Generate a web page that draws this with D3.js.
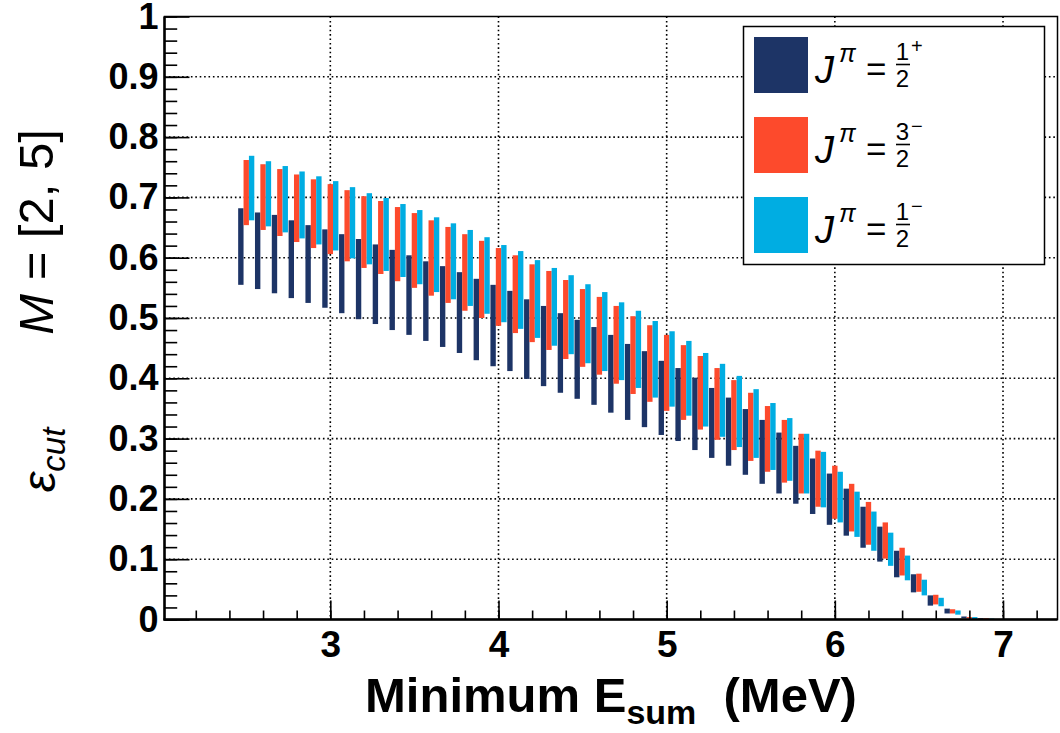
<!DOCTYPE html>
<html>
<head>
<meta charset="utf-8">
<script src="https://cdn.jsdelivr.net/npm/d3@7"></script>
<style>
  html, body { margin: 0; padding: 0; background: #fff; }
  svg { display: block; }
  text { font-family: "Liberation Sans", Arial, Helvetica, sans-serif; }
</style>
</head>
<body>
<svg id="chart" width="1060" height="733"></svg>
<script>
// ---------------- data ----------------
const energies = [2.5,2.6,2.7,2.8,2.9,3.0,3.1,3.2,3.3,3.4,3.5,3.6,3.7,3.8,3.9,4.0,4.1,4.2,4.3,4.4,4.5,4.6,4.7,4.8,4.9,5.0,5.1,5.2,5.3,5.4,5.5,5.6,5.7,5.8,5.9,6.0,6.1,6.2,6.3,6.4,6.5,6.6,6.7,6.8,6.9];

// J^pi = 1/2+  (dark)
const lowHalfPlus  = [0.555,0.548,0.541,0.533,0.525,0.517,0.508,0.498,0.490,0.480,0.472,0.462,0.452,0.442,0.430,0.420,0.412,0.399,0.387,0.376,0.366,0.356,0.343,0.331,0.319,0.306,0.296,0.281,0.268,0.255,0.240,0.225,0.209,0.192,0.175,0.157,0.139,0.119,0.096,0.070,0.045,0.023,0.010,0.002,0.000];
const highHalfPlus = [0.682,0.675,0.671,0.662,0.654,0.647,0.639,0.631,0.622,0.613,0.604,0.594,0.586,0.576,0.565,0.555,0.545,0.531,0.520,0.508,0.497,0.485,0.472,0.457,0.445,0.429,0.417,0.401,0.384,0.368,0.349,0.331,0.310,0.288,0.267,0.242,0.217,0.187,0.154,0.114,0.075,0.040,0.018,0.005,0.002];

// J^pi = 3/2-  (orange)
const lowThreeHalfMinus  = [0.654,0.646,0.636,0.626,0.616,0.606,0.594,0.583,0.573,0.561,0.550,0.537,0.525,0.512,0.500,0.487,0.475,0.460,0.447,0.432,0.419,0.406,0.391,0.374,0.361,0.346,0.331,0.315,0.298,0.281,0.263,0.245,0.227,0.209,0.187,0.167,0.146,0.124,0.101,0.073,0.046,0.025,0.010,0.002,0.000];
const highThreeHalfMinus = [0.762,0.755,0.747,0.738,0.730,0.722,0.712,0.702,0.694,0.684,0.674,0.662,0.651,0.639,0.628,0.616,0.604,0.589,0.578,0.563,0.548,0.535,0.520,0.503,0.488,0.472,0.455,0.437,0.417,0.397,0.376,0.354,0.331,0.308,0.280,0.255,0.225,0.195,0.161,0.119,0.076,0.041,0.017,0.004,0.002];

// J^pi = 1/2-  (cyan)
const lowHalfMinus  = [0.662,0.652,0.642,0.632,0.622,0.612,0.599,0.589,0.578,0.568,0.556,0.543,0.531,0.520,0.507,0.493,0.482,0.467,0.454,0.440,0.425,0.412,0.397,0.384,0.368,0.353,0.338,0.320,0.303,0.286,0.268,0.248,0.230,0.209,0.186,0.161,0.137,0.114,0.089,0.065,0.040,0.022,0.008,0.001,0.000];
const highHalfMinus = [0.769,0.760,0.752,0.743,0.735,0.727,0.717,0.707,0.699,0.689,0.679,0.667,0.657,0.646,0.634,0.621,0.611,0.596,0.583,0.571,0.556,0.543,0.526,0.512,0.495,0.478,0.462,0.442,0.424,0.404,0.382,0.359,0.334,0.308,0.278,0.245,0.212,0.179,0.144,0.106,0.066,0.036,0.015,0.004,0.0015];

const seriesNames = ["1/2+", "3/2-", "1/2-"];
const seriesColors = ["#1d3466", "#fd4a2c", "#00ade2"];
const seriesOffsets = [-0.032, 0, 0.032];   // MeV offset of each bar inside a group
const barWidthMeV = 0.032;

const xTickValues = [3,4,5,6,7];
const xTickLabels = ["3","4","5","6","7"];
const yTickValues = [0,0.1,0.2,0.3,0.4,0.5,0.6,0.7,0.8,0.9,1];
const yTickLabels = ["0","0.1","0.2","0.3","0.4","0.5","0.6","0.7","0.8","0.9","1"];

// legend text pieces: numerator, sign
const legendNum = ["1","3","1"];
const legendSign = ["+","\u2212","\u2212"];

// ---------------- layout ----------------
const svg = d3.select("#chart");
const L = 164.5, R = 1057.5, T = 16.5, B = 619.5;
const x = d3.scaleLinear().domain([2.014, 7.324]).range([L, R]);
const y = d3.scaleLinear().domain([0, 1]).range([B, T]);

// grid
const grid = svg.append("g").attr("stroke", "#000").attr("stroke-width", 1.6)
  .attr("stroke-dasharray", "1.6,2.8");
grid.selectAll("line.gx").data(xTickValues).join("line")
  .attr("x1", d => x(d)).attr("x2", d => x(d)).attr("y1", T).attr("y2", B);
grid.selectAll("line.gy").data(yTickValues.filter(v => v > 0 && v < 1)).join("line")
  .attr("x1", L).attr("x2", R).attr("y1", d => y(d)).attr("y2", d => y(d));

// bars
const series = [
  {lo: lowHalfPlus, hi: highHalfPlus},
  {lo: lowThreeHalfMinus, hi: highThreeHalfMinus},
  {lo: lowHalfMinus, hi: highHalfMinus}
];
series.forEach((s, si) => {
  const data = energies.map((e, i) => ({e, lo: s.lo[i], hi: s.hi[i]}));
  svg.append("g").selectAll("rect").data(data).join("rect")
    .attr("x", d => x(d.e + seriesOffsets[si] - barWidthMeV / 2))
    .attr("width", d => x(d.e + seriesOffsets[si] + barWidthMeV / 2) - x(d.e + seriesOffsets[si] - barWidthMeV / 2))
    .attr("y", d => y(d.hi))
    .attr("height", d => Math.max(0.6, y(d.lo) - y(d.hi)))
    .attr("fill", seriesColors[si]);
});

// axes
const yMinor = d3.range(0, 1.0001, 0.02);
const xMinor = d3.range(2.2, 7.32, 0.2);
const yAxisMinor = d3.axisLeft(y).tickValues(yMinor).tickSize(-12.7).tickFormat("");
const yAxisMajor = d3.axisLeft(y).tickValues(yTickValues).tickSize(-25)
  .tickPadding(6).tickFormat((d, i) => yTickLabels[i]);
const xAxisMinor = d3.axisBottom(x).tickValues(xMinor).tickSize(-9).tickFormat("");
const xAxisMajor = d3.axisBottom(x).tickValues(xTickValues).tickSize(-19)
  .tickPadding(11).tickFormat((d, i) => xTickLabels[i]);

function styleAxis(g) {
  g.select(".domain").remove();
  g.selectAll(".tick line").attr("stroke", "#000").attr("stroke-width", 1.6);
  g.selectAll(".tick text").attr("fill", "#000").attr("font-weight", "bold")
    .attr("font-size", 36);
}
svg.append("g").attr("transform", `translate(${L},0)`).call(yAxisMinor).call(styleAxis);
svg.append("g").attr("transform", `translate(${L},0)`).call(yAxisMajor).call(styleAxis);
svg.append("g").attr("transform", `translate(0,${B})`).call(xAxisMinor).call(styleAxis);
const xg = svg.append("g").attr("transform", `translate(0,${B})`).call(xAxisMajor).call(styleAxis);
xg.selectAll(".tick text").attr("dy", "0.71em").attr("font-size", 37);

// frame
svg.append("rect").attr("x", L).attr("y", T).attr("width", R - L).attr("height", B - T)
  .attr("fill", "none").attr("stroke", "#000").attr("stroke-width", 1.5);
svg.append("line").attr("x1", L).attr("x2", L).attr("y1", T).attr("y2", B + 1)
  .attr("stroke", "#000").attr("stroke-width", 2.5);
svg.append("line").attr("x1", L - 1).attr("x2", R).attr("y1", B).attr("y2", B)
  .attr("stroke", "#000").attr("stroke-width", 2.5);

// x title
const xt = svg.append("text").attr("x", 611).attr("y", 712).attr("text-anchor", "middle")
  .attr("font-weight", "bold").attr("font-size", 49).attr("fill", "#000");
xt.append("tspan").text("Minimum E");
xt.append("tspan").attr("font-size", 34).attr("dy", 12).text("sum");
xt.append("tspan").attr("dy", -12).text("\u00a0\u00a0(MeV)");

// y title
svg.append("text").attr("transform", "translate(53,232) rotate(-90)")
  .attr("text-anchor", "middle").attr("font-size", 49).attr("fill", "#000")
  .call(t => {
    t.append("tspan").attr("font-style", "italic").text("M");
    t.append("tspan").text(" = [2, 5]");
  });
svg.append("text").attr("transform", "translate(55,460) rotate(-90)")
  .attr("text-anchor", "middle").attr("font-size", 47).attr("fill", "#000")
  .call(t => {
    t.append("tspan").attr("font-style", "italic").text("\u03b5");
    t.append("tspan").attr("font-style", "italic").attr("font-size", 33).attr("dy", 10).text("cut");
  });

// legend
const lg = svg.append("g");
lg.append("rect").attr("x", 743.5).attr("y", 26.5).attr("width", 301).attr("height", 238)
  .attr("fill", "#fff").attr("stroke", "#000").attr("stroke-width", 1.5);
seriesNames.forEach((n, i) => {
  const oy = 37 + i * 80;
  lg.append("rect").attr("x", 754).attr("y", oy).attr("width", 54).attr("height", 56)
    .attr("fill", seriesColors[i]);
  lg.append("text").attr("x", 815).attr("y", oy + 46).attr("font-size", 38)
    .attr("font-style", "italic").attr("fill", "#000").text("J");
  lg.append("text").attr("x", 839).attr("y", oy + 25).attr("font-size", 25)
    .attr("font-style", "italic").attr("fill", "#000").text("\u03c0");
  lg.append("text").attr("x", 866).attr("y", oy + 44).attr("font-size", 35)
    .attr("fill", "#000").text("=");
  lg.append("text").attr("x", 902.5).attr("y", oy + 23).attr("font-size", 24)
    .attr("text-anchor", "middle").attr("fill", "#000").text(legendNum[i]);
  lg.append("line").attr("x1", 896).attr("x2", 910).attr("y1", oy + 27.5).attr("y2", oy + 27.5)
    .attr("stroke", "#000").attr("stroke-width", 1.6);
  lg.append("text").attr("x", 902.5).attr("y", oy + 50).attr("font-size", 24)
    .attr("text-anchor", "middle").attr("fill", "#000").text("2");
  lg.append("text").attr("x", 911).attr("y", oy + 16).attr("font-size", 20)
    .attr("fill", "#000").text(legendSign[i]);
});
</script>
</body>
</html>
